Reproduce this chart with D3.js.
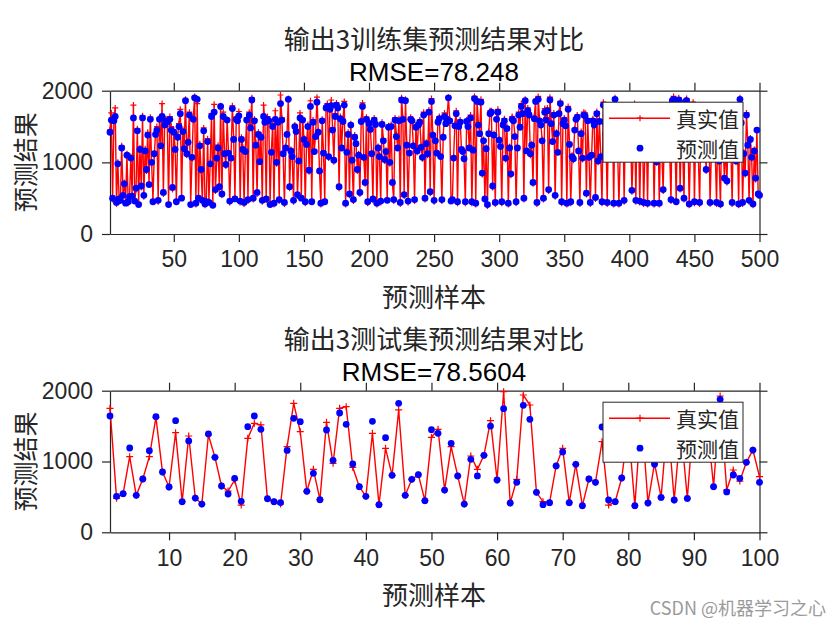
<!DOCTYPE html>
<html><head><meta charset="utf-8">
<script src="https://cdn.jsdelivr.net/npm/d3@7/dist/d3.min.js"></script>
<style>body{margin:0;background:#fff}svg{display:block}</style>
</head><body>
<svg id="c" width="840" height="630"></svg>
<script>
// ---------------- data ----------------
const trainTrue = [
1450,1690,480,1600,1760,420,1000,510,460,1230,560,720,450,1120,430,500,1080,540,1800,470,
620,1470,430,1200,650,1650,520,1190,880,1420,700,1630,980,470,1100,1400,1500,450,1620,1250,
1820,560,1560,1610,1580,430,1640,1500,620,1450,1200,470,1380,1540,1740,520,1460,1220,1880,1100,
1300,1700,430,1050,1620,1920,410,1820,520,1260,880,450,1480,400,470,1330,460,1000,1680,420,
1810,600,1040,1240,640,1790,540,1700,1140,950,1600,1150,440,1080,1790,1340,510,1630,1620,1710,
440,1350,1210,420,1180,1620,460,1700,1530,1900,480,1600,1270,560,1420,1000,1380,450,1800,1580,
470,1640,1600,430,1160,1540,410,1720,980,1570,460,1940,1620,1140,420,1220,1400,1890,640,1180,
1100,450,1520,1460,530,1000,1690,520,1610,1340,430,1270,1530,870,1860,470,1590,1170,1390,1910,
1440,860,410,1600,1150,470,1790,1820,1060,1750,1870,1480,1010,1680,1830,1790,640,1640,1230,1600,
1850,410,1160,1420,540,1540,1010,460,1380,1280,880,1120,560,1590,1830,1050,700,1630,430,1580,
1480,1140,470,1620,1560,410,1220,1100,440,1560,1330,1020,1170,490,1510,980,1530,700,460,1620,
1390,1220,1610,420,1900,1620,530,1880,1260,440,1150,1630,1600,1250,460,1520,1140,1560,1590,1230,
1050,1700,480,1280,1100,1730,570,1890,1400,450,1320,1150,1590,1640,1100,460,1370,1690,1560,1640,
1910,1600,480,460,1080,1540,1720,430,1530,1590,1200,1170,1070,430,1590,1520,1220,1660,430,1190,
1920,410,1880,1550,1420,1880,830,1320,470,1210,390,1430,1720,1720,650,1400,420,1620,1740,1330,
1240,430,1550,1610,1040,1500,410,1220,820,1640,1610,1380,430,1220,1700,1510,1820,1700,480,1880,
1180,1760,1690,1100,1260,700,1640,1870,420,1920,1600,1540,1320,480,1750,1620,1760,600,1910,1560,
1310,1690,520,1420,1160,1700,1850,430,1560,1620,1540,410,1780,1270,430,1100,1030,1470,1620,1660,
1180,420,1430,1040,1700,1690,550,1600,1090,420,1080,1610,1540,490,1710,1000,1600,1100,430,1840,
1580,1420,420,1640,1760,1390,1720,410,1900,1780,1180,410,1140,1540,1750,450,1620,1390,1580,1590,
1380,590,1160,1820,450,1790,1500,440,1380,1600,420,1170,1510,410,1680,1240,1560,1710,410,1390,
990,1600,410,1400,1100,600,1520,1760,1200,1490,1150,460,1880,1920,1360,470,1700,1900,620,1450,
1180,480,1870,1890,1410,400,1280,1600,1840,430,1440,1250,1100,420,1580,1220,1710,1430,880,1540,
1760,420,1110,1580,1700,1150,420,1500,1000,400,1620,1320,760,1230,720,1610,1580,1190,420,1680,
1390,1000,1300,400,1900,1580,420,1140,830,1690,1260,450,1340,1050,400,1180,760,1450,540,560
];
const trainPred = [
1420,1590,500,1580,1640,440,980,490,470,1200,540,700,430,1100,450,520,1060,530,1620,460,
640,1440,410,1180,670,1620,540,1160,900,1380,690,1600,1000,450,1120,1390,1450,470,1600,1230,
1640,580,1520,1580,1560,410,1600,1450,650,1420,1180,450,1350,1500,1680,500,1430,1190,1860,1120,
1280,1660,410,1070,1600,1900,430,1880,500,1230,900,470,1440,420,450,1290,440,980,1640,400,
1700,620,1060,1200,660,1780,560,1640,1120,970,1590,1130,460,1060,1750,1320,490,1600,1580,1650,
460,1320,1180,440,1150,1590,480,1660,1480,1870,500,1580,1240,580,1390,1010,1350,470,1640,1560,
490,1600,1580,410,1140,1500,430,1600,1000,1560,480,1820,1590,1120,440,1200,1390,1880,660,1160,
1080,470,1500,1430,550,1020,1620,500,1590,1320,450,1250,1500,890,1780,450,1560,1150,1360,1840,
1420,880,430,1580,1130,450,1760,1780,1080,1740,1790,1450,1030,1640,1800,1760,660,1610,1200,1570,
1800,430,1140,1390,560,1520,1030,480,1350,1260,900,1100,580,1570,1780,1070,720,1600,450,1540,
1460,1120,490,1590,1530,430,1200,1080,460,1530,1300,1040,1150,470,1490,1000,1500,720,480,1590,
1360,1200,1580,440,1870,1600,550,1860,1240,460,1130,1600,1580,1230,480,1490,1160,1520,1560,1210,
1070,1660,500,1260,1120,1700,590,1850,1380,470,1300,1130,1560,1610,1080,480,1350,1640,1540,1600,
1900,1580,460,480,1060,1510,1680,450,1500,1560,1180,1150,1050,450,1570,1500,1200,1620,450,1170,
1890,430,1850,1520,1400,1840,850,1300,490,1190,410,1400,1680,1700,670,1380,440,1600,1700,1310,
1220,450,1520,1580,1060,1470,430,1200,840,1600,1580,1360,450,1200,1660,1490,1780,1680,500,1860,
1160,1720,1660,1120,1240,720,1610,1850,440,1880,1580,1520,1300,500,1700,1590,1720,620,1870,1540,
1290,1660,540,1400,1140,1680,1820,450,1540,1590,1510,430,1740,1250,450,1080,1050,1450,1600,1630,
1160,440,1400,1060,1660,1650,570,1580,1070,440,1100,1580,1520,510,1680,1020,1570,1080,450,1800,
1560,1400,440,1610,1720,1370,1690,430,1880,1750,1160,430,1160,1520,1720,470,1600,1370,1560,1570,
1360,610,1140,1780,470,1760,1480,460,1360,1570,440,1150,1490,430,1650,1220,1540,1680,430,1370,
1010,1580,430,1380,1080,620,1500,1720,1180,1470,1130,480,1860,1880,1340,450,1660,1870,640,1430,
1160,500,1840,1860,1390,420,1260,1580,1800,450,1420,1230,1120,440,1560,1200,1680,1410,900,1520,
1720,440,1090,1560,1660,1130,440,1480,1020,420,1600,1300,780,1210,740,1580,1560,1170,440,1650,
1370,1020,1280,420,1880,1550,440,1120,850,1660,1240,470,1320,1070,420,1160,780,1450,560,540
];
const testTrue = [
1751,480,546,1068,522,753,1068,1623,852,640,
1407,433,1360,484,399,1374,1059,654,583,739,
385,1327,1539,1516,475,433,400,1209,1822,1421,
579,889,461,1553,974,1751,1775,918,644,508,
1398,390,1186,805,1728,522,748,814,447,1341,
1454,597,1209,796,399,1078,889,1087,1577,739,
1986,414,748,1939,1798,565,433,419,937,1186,
419,960,376,753,706,1280,385,433,767,1500,
376,1700,414,974,493,1600,456,1500,479,1700,
1400,1600,645,1925,597,880,724,988,1162,786
];
const testPred = [
1643,508,546,1191,522,753,1153,1633,852,640,
1577,433,1290,484,399,1389,1059,654,541,762,
437,1492,1643,1454,475,433,420,1157,1610,1562,
579,833,461,1445,1017,1685,1525,965,644,508,
1567,390,1336,805,1822,522,748,814,447,1449,
1398,597,1257,796,399,1031,796,1087,1501,739,
1746,414,706,1793,1596,565,390,419,937,1134,
419,960,376,753,706,1487,456,433,767,1450,
376,1650,414,960,493,1550,456,1480,479,1650,
1380,1560,645,1878,570,809,762,988,1162,706
];
const yTickValues = [0, 1000, 2000];
const trainXTicks = [50,100,150,200,250,300,350,400,450,500];
const testXTicks = [10,20,30,40,50,60,70,80,90,100];
const trainTitle = ["输出3训练集预测结果对比", "RMSE=78.248"];
const testTitle = ["输出3测试集预测结果对比", "RMSE=78.5604"];
const legendLabels = ["真实值", "预测值"];
const xLabel = "预测样本";
const yLabel = "预测结果";

// ---------------- drawing ----------------
const svg = d3.select("#c");
const NUM = "'Liberation Sans', Arial, sans-serif";
const CJK = "'Noto Sans CJK SC', 'Noto Sans', sans-serif";
const AX = "#262626";

function panel(o) {
  const n = o.truth.length;
  const x = d3.scaleLinear().domain([1, n]).range([110, 759.5]);
  const y = d3.scaleLinear().domain([0, 2000]).range([o.bottom, o.top]);
  const g = svg.append("g");

  const styleAxis = (sel, labels) => {
    sel.selectAll(".domain").attr("stroke", AX).attr("stroke-width", 1.2);
    sel.selectAll(".tick line").attr("stroke", AX).attr("stroke-width", 1.2);
    sel.selectAll(".tick text").attr("fill", AX).style("font-family", NUM).style("font-size", "23px");
    if (!labels) sel.selectAll(".tick text").remove();
  };
  g.append("g").attr("transform", `translate(0,${o.bottom})`)
    .call(d3.axisBottom(x).tickValues(o.xticks).tickSize(8).tickSizeOuter(0).tickPadding(9).tickFormat(d3.format("d")))
    .call(s => styleAxis(s, true));
  g.append("g").attr("transform", `translate(0,${o.top})`)
    .call(d3.axisTop(x).tickValues(o.xticks).tickSize(8).tickSizeOuter(0))
    .call(s => styleAxis(s, false));
  g.append("g").attr("transform", `translate(110,0)`)
    .call(d3.axisLeft(y).tickValues(yTickValues).tickSize(8).tickSizeOuter(0).tickPadding(9).tickFormat(d3.format("d")))
    .call(s => styleAxis(s, true));
  g.append("g").attr("transform", `translate(759.5,0)`)
    .call(d3.axisRight(y).tickValues(yTickValues).tickSize(8).tickSizeOuter(0))
    .call(s => styleAxis(s, false));

  // true values: red line with + markers
  const line = d3.line().x((d, i) => x(i + 1)).y(d => y(d));
  g.append("path").datum(o.truth).attr("d", line)
    .attr("fill", "none").attr("stroke", "#ff0000").attr("stroke-width", 1.4).attr("stroke-linejoin", "miter");
  const pm = o.plusSize;
  g.append("g").selectAll("path").data(o.truth).join("path")
    .attr("d", (d, i) => `M${x(i + 1) - pm},${y(d)}H${x(i + 1) + pm}M${x(i + 1)},${y(d) - pm}V${y(d) + pm}`)
    .attr("stroke", "#ff0000").attr("stroke-width", 1.2).attr("fill", "none");

  // predicted values: blue dots
  g.append("g").selectAll("circle").data(o.pred).join("circle")
    .attr("cx", (d, i) => x(i + 1)).attr("cy", d => y(d)).attr("r", 3.4).attr("fill", "#0000ff");

  // titles
  g.append("text").attr("x", 434).attr("y", o.top - 42).attr("text-anchor", "middle")
    .style("font-family", CJK).style("font-size", "26px").attr("fill", "#262626").text(o.title[0]);
  g.append("text").attr("x", 434).attr("y", o.top - 10).attr("text-anchor", "middle")
    .style("font-family", NUM).style("font-size", "26px").attr("fill", "#000").text(o.title[1]);

  // axis labels
  g.append("text").attr("x", 434).attr("y", o.bottom + 73).attr("text-anchor", "middle")
    .style("font-family", CJK).style("font-size", "26px").attr("fill", AX).text(xLabel);
  g.append("text").attr("transform", `translate(24,${(o.top + o.bottom) / 2}) rotate(-90)`)
    .attr("text-anchor", "middle").attr("dominant-baseline", "central")
    .style("font-family", CJK).style("font-size", "25px").attr("fill", AX).text(yLabel);

  // legend
  const lx = 603, ly = o.top + 11.5;
  const lg = g.append("g");
  lg.append("rect").attr("x", lx).attr("y", ly).attr("width", 140).attr("height", 60)
    .attr("fill", "#fff").attr("stroke", AX).attr("stroke-width", 1);
  lg.append("line").attr("x1", lx + 6).attr("x2", lx + 67).attr("y1", ly + 16).attr("y2", ly + 16)
    .attr("stroke", "#ff0000").attr("stroke-width", 1.4);
  lg.append("path").attr("d", `M${lx + 37 - pm},${ly + 16}H${lx + 37 + pm}M${lx + 37},${ly + 16 - pm}V${ly + 16 + pm}`)
    .attr("stroke", "#ff0000").attr("stroke-width", 1.2);
  lg.append("circle").attr("cx", lx + 37).attr("cy", ly + 46).attr("r", 3.4).attr("fill", "#0000ff");
  lg.selectAll("text.lab").data(legendLabels).join("text").attr("class", "lab")
    .attr("x", lx + 73).attr("y", (d, i) => ly + 16 + i * 30).attr("dominant-baseline", "central")
    .style("font-family", CJK).style("font-size", "21px").attr("fill", AX).text(d => d);
}

panel({ truth: trainTrue, pred: trainPred, top: 90.7, bottom: 234, xticks: trainXTicks, title: trainTitle, plusSize: 3 });
panel({ truth: testTrue, pred: testPred, top: 390.7, bottom: 532.3, xticks: testXTicks, title: testTitle, plusSize: 3.5 });

// watermark
svg.append("text").attr("x", 826).attr("y", 615).attr("text-anchor", "end")
  .style("font-family", CJK).style("font-size", "18px").attr("fill", "#9a9a9a").text("CSDN @机器学习之心");
</script>
</body></html>
